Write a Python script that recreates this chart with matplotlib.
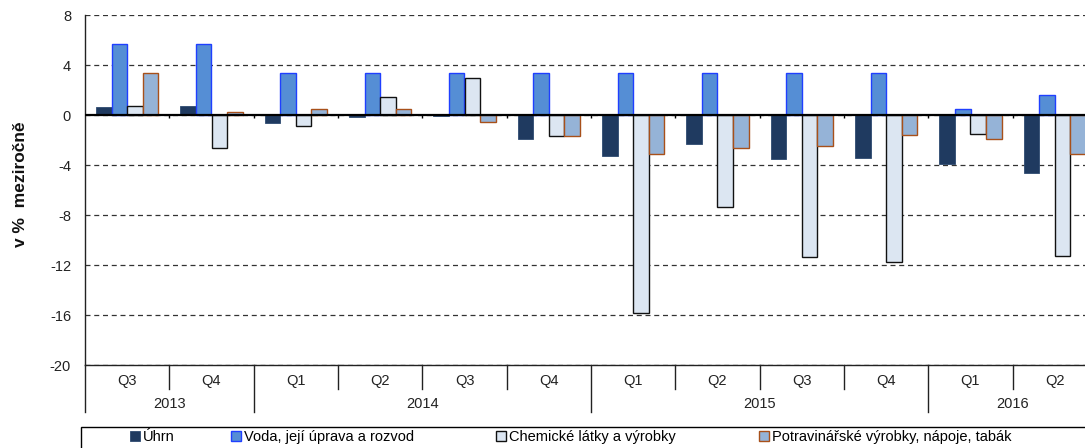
import matplotlib
matplotlib.use("Agg")
import matplotlib.pyplot as plt
import numpy as np
from matplotlib.patches import Rectangle
import matplotlib.transforms as mtransforms

plt.rcParams['font.family'] = ['Liberation Sans', 'DejaVu Sans']
plt.rcParams['axes.unicode_minus'] = False

quarters = ["Q3", "Q4", "Q1", "Q2", "Q3", "Q4", "Q1", "Q2", "Q3", "Q4", "Q1", "Q2"]
years = ["2013", "2014", "2015", "2016"]
year_counts = [2, 4, 4, 2]

uhrn = [0.65, 0.7, -0.65, -0.15, -0.08, -1.9, -3.25, -2.3, -3.55, -3.45, -3.95, -4.65]
voda = [5.7, 5.7, 3.4, 3.4, 3.4, 3.4, 3.4, 3.4, 3.4, 3.4, 0.5, 1.6]
chem = [0.7, -2.65, -0.85, 1.45, 3.0, -1.7, -15.85, -7.35, -11.35, -11.75, -1.5, -11.25]
potrav = [3.4, 0.25, 0.45, 0.45, -0.55, -1.7, -3.15, -2.6, -2.45, -1.6, -1.9, -3.15]

series_names = ["Úhrn", "Voda, její úprava a rozvod", "Chemické látky a výrobky",
                "Potravinářské výrobky, nápoje, tabák"]

W, H = 1085, 448
fig = plt.figure(figsize=(W / 100, H / 100), dpi=100)
ax_left, ax_right = 85, 1097
ax_top, ax_bot = 15, 365
ax = fig.add_axes([ax_left / W, 1 - ax_bot / H, (ax_right - ax_left) / W, (ax_bot - ax_top) / H])

n = len(quarters)
x = np.arange(n)
bw = 0.185
styles = [
    dict(color="#1F3A60", edgecolor="#2E4A70", linewidth=0.6),
    dict(color="#558ED5", edgecolor="#1F3FFF", linewidth=1.0),
    dict(color="#DCE6F2", edgecolor="#111111", linewidth=1.0),
    dict(color="#95B3D7", edgecolor="#A8501A", linewidth=1.0),
]
handles = []
for k, (vals, st) in enumerate(zip([uhrn, voda, chem, potrav], styles)):
    b = ax.bar(x + (k - 1.5) * bw, vals, width=bw, zorder=3, **st)
    handles.append(b)

ax.set_xlim(-0.5, n - 0.5)
ax.set_ylim(-20, 8)
ax.set_yticks(np.arange(-20, 9, 4))
ax.yaxis.grid(True, linestyle=(0, (4, 3)), color="#333333", linewidth=0.9, zorder=1)
ax.set_axisbelow(True)
ax.tick_params(axis='y', length=0, pad=10, labelsize=10.5, colors="#222222")
ax.set_xticks([])
for s in ["top", "right"]:
    ax.spines[s].set_visible(False)
ax.spines["left"].set_color("#222222")
ax.spines["left"].set_linewidth(1.0)
ax.spines["bottom"].set_color("#222222")
ax.spines["bottom"].set_linewidth(1.0)

# zero line and little ticks at group boundaries
ax.axhline(0, color="black", linewidth=1.6, zorder=4)
bounds = np.arange(n + 1) - 0.5
ax.vlines(bounds[1:], 0, -0.25, color="black", linewidth=1.0, zorder=4)

# category axis below
trans = mtransforms.blended_transform_factory(ax.transData, ax.transAxes)
h_ax = ax_bot - ax_top
q_depth = -24 / h_ax
y_depth = -47 / h_ax
year_starts = np.cumsum([0] + year_counts)
year_bounds = set(year_starts)
for i, bx in enumerate(bounds):
    if i in year_bounds:
        ax.plot([bx, bx], [0, y_depth], transform=trans, color="#222222", lw=1.0, clip_on=False)
    else:
        ax.plot([bx, bx], [0, q_depth], transform=trans, color="#222222", lw=1.0, clip_on=False)
for i, q in enumerate(quarters):
    ax.text(x[i], -16 / h_ax, q, transform=trans, ha="center", va="center", fontsize=10.5, color="#222222")
for j, yr in enumerate(years):
    c = (year_starts[j] + year_starts[j + 1] - 1) / 2
    ax.text(c, -39 / h_ax, yr, transform=trans, ha="center", va="center", fontsize=10.5, color="#222222")

# y label
fig.text(21 / W, 1 - 184 / H, "v %  meziročně", rotation=90, ha="center", va="center",
         fontsize=12.5, fontweight="bold", color="#111111")

# legend frame
fig.patches.append(Rectangle((80.5 / W, -0.05), 1.1, 0.05 + (H - 427) / H, transform=fig.transFigure,
                             fill=False, edgecolor="black", linewidth=1.0))
leg_x = [130, 231, 496, 759]
for h, name, lx in zip(handles, series_names, leg_x):
    fig.legend([h], [name], loc="center left", bbox_to_anchor=(lx / W, 1 - 437 / H),
               frameon=False, fontsize=10.5, handlelength=0.7, handleheight=0.7,
               handletextpad=0.2, borderpad=0, borderaxespad=0)

fig.savefig("out.png", dpi=100)
